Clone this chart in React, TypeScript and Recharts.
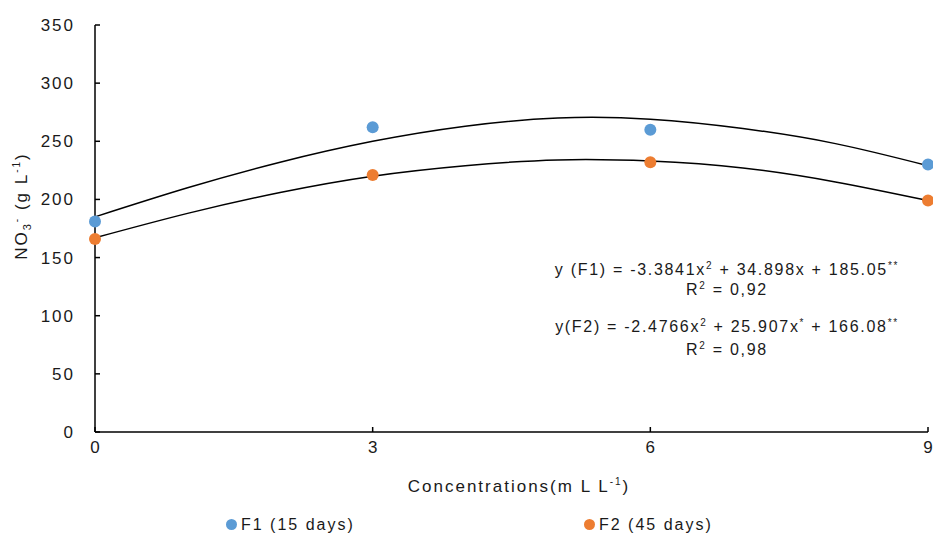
import React from 'react';
import { ComposedChart, Line, Scatter, XAxis, YAxis } from 'recharts';

// measured points
const concentrations = [0, 3, 6, 9];
const f1Values = [181, 262, 260, 230];
const f2Values = [166, 221, 232, 199];

// fitted curves at each unit step
const curveX = [0, 1, 2, 3, 4, 5, 6, 7, 8, 9];
const f1Curve = [185, 210, 232, 250, 263, 270, 269, 261, 248, 229];
const f2Curve = [167, 188, 206, 220, 229, 234, 233, 227, 215, 199];

const yTicks = [0, 50, 100, 150, 200, 250, 300, 350];
const xTicks = [0, 3, 6, 9];

const BLUE = '#5B9BD5';
const ORANGE = '#ED7D31';
const FONT = '"Liberation Sans", Arial, sans-serif';
const TEXT = '#1a1a1a';
const SPACING = 2;

const f1Points = concentrations.map((x, i) => ({ x, y: f1Values[i] }));
const f2Points = concentrations.map((x, i) => ({ x, y: f2Values[i] }));
const f1Line = curveX.map((x, i) => ({ x, y: f1Curve[i] }));
const f2Line = curveX.map((x, i) => ({ x, y: f2Curve[i] }));

const Y_MARGIN = 22;
const X_MARGIN = 8;

const YTick = (props: any) => {
  const { x, y, payload } = props;
  const ax = x + Y_MARGIN;
  return (
    <g>
      <line x1={ax} x2={ax + 5} y1={y} y2={y} stroke="#000" strokeWidth={1.5} />
      <text x={x + SPACING} y={y} dy={6} textAnchor="end" fill={TEXT} fontSize={17} fontFamily={FONT} letterSpacing={SPACING}>
        {payload.value}
      </text>
    </g>
  );
};

const XTick = (props: any) => {
  const { x, y, payload } = props;
  const ay = y - X_MARGIN;
  return (
    <g>
      <line x1={x} x2={x} y1={ay} y2={ay - 5} stroke="#000" strokeWidth={1.5} />
      <text x={x} y={y} dy={13} textAnchor="middle" fill={TEXT} fontSize={17} fontFamily={FONT}>
        {payload.value}
      </text>
    </g>
  );
};

const dot = (color: string) => (props: any) => (
  <circle cx={props.cx} cy={props.cy} r={6} fill={color} />
);

const eqStyle: React.CSSProperties = {
  position: 'absolute',
  width: 400,
  textAlign: 'center',
  fontFamily: FONT,
  fontSize: 16,
  color: TEXT,
  lineHeight: '20px',
  letterSpacing: 1.7,
  whiteSpace: 'nowrap',
};

const sup: React.CSSProperties = { fontSize: 10, verticalAlign: 'super', lineHeight: 0 };

const labelStyle: React.CSSProperties = {
  position: 'absolute',
  fontFamily: FONT,
  fontSize: 17,
  color: TEXT,
  whiteSpace: 'nowrap',
  letterSpacing: SPACING,
};

export default function App() {
  return (
    <div style={{ position: 'absolute', left: 0, top: 0, width: 933, height: 536, background: '#fff' }}>
      <ComposedChart width={933} height={536} margin={{ top: 25, right: 5, bottom: 74, left: 0 }}>
        <XAxis
          type="number"
          dataKey="x"
          domain={[0, 9]}
          ticks={xTicks}
          tickSize={0}
          tickMargin={X_MARGIN}
          tick={<XTick />}
          height={30}
          stroke="#000"
          strokeWidth={1.5}
          allowDuplicatedCategory={false}
        />
        <YAxis
          type="number"
          dataKey="y"
          domain={[0, 350]}
          ticks={yTicks}
          tickSize={0}
          tickMargin={Y_MARGIN}
          tick={<YTick />}
          width={95}
          stroke="#000"
          strokeWidth={1.5}
        />
        <Line data={f1Line} dataKey="y" type="natural" stroke="#000" strokeWidth={1.5} dot={false} isAnimationActive={false} />
        <Line data={f2Line} dataKey="y" type="natural" stroke="#000" strokeWidth={1.5} dot={false} isAnimationActive={false} />
        <Scatter data={f1Points} dataKey="y" fill={BLUE} shape={dot(BLUE)} isAnimationActive={false} />
        <Scatter data={f2Points} dataKey="y" fill={ORANGE} shape={dot(ORANGE)} isAnimationActive={false} />
      </ComposedChart>

      {/* y axis title */}
      <div style={{ ...labelStyle, left: 22, top: 206, transform: 'translate(-50%, -50%) rotate(-90deg)' }}>
        NO<sub style={{ fontSize: 11, lineHeight: 0 }}>3</sub><sup style={sup}>-</sup> (g L<sup style={sup}>-1</sup>)
      </div>

      {/* x axis title */}
      <div style={{ ...labelStyle, left: 519, top: 487, transform: 'translate(-50%, -50%)' }}>
        Concentrations(m L L<sup style={sup}>-1</sup>)
      </div>

      {/* regression equations */}
      <div style={{ ...eqStyle, left: 527, top: 260 }}>
        y (F1) = -3.3841x<sup style={sup}>2</sup> + 34.898x + 185.05<sup style={sup}>**</sup>
        <br />
        R<sup style={sup}>2</sup> = 0,92
      </div>
      <div style={{ ...eqStyle, left: 527, top: 315, lineHeight: '23px' }}>
        y(F2) = -2.4766x<sup style={sup}>2</sup> + 25.907x<sup style={sup}>*</sup> + 166.08<sup style={sup}>**</sup>
        <br />
        R<sup style={sup}>2</sup> = 0,98
      </div>

      {/* legend */}
      <div style={{ ...labelStyle, fontSize: 16, left: 226, top: 516 }}>
        <span style={{ display: 'inline-block', width: 11, height: 11, borderRadius: 6, background: BLUE, marginRight: 4 }} />
        F1 (15 days)
      </div>
      <div style={{ ...labelStyle, fontSize: 16, left: 584, top: 516 }}>
        <span style={{ display: 'inline-block', width: 11, height: 11, borderRadius: 6, background: ORANGE, marginRight: 4 }} />
        F2 (45 days)
      </div>
    </div>
  );
}
